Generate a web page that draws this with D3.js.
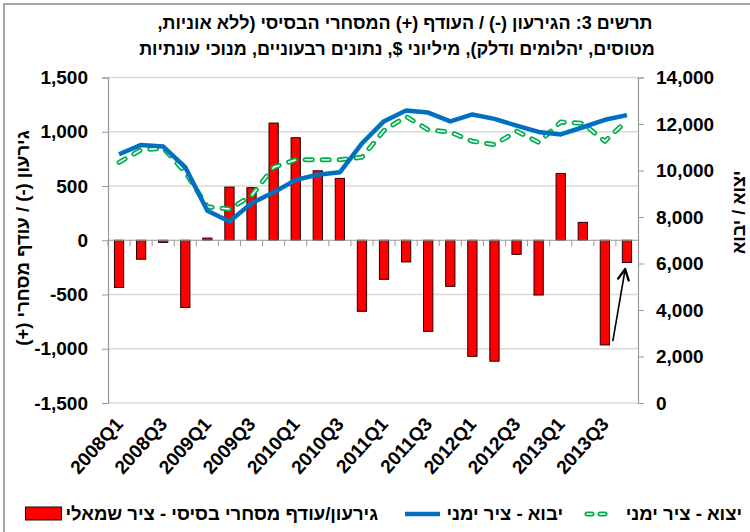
<!doctype html>
<html>
<head>
<meta charset="utf-8">
<title>Trade balance</title>
<script src="https://d3js.org/d3.v7.min.js"></script>
<style>
  body { margin: 0; background: #fff; }
  svg text { font-family: "Liberation Sans", Arial, sans-serif; font-weight: bold; fill: #000; }
</style>
</head>
<body>
<div id="chart"></div>
<script>
const quarters = ["2008Q1","2008Q2","2008Q3","2008Q4","2009Q1","2009Q2","2009Q3","2009Q4",
                  "2010Q1","2010Q2","2010Q3","2010Q4","2011Q1","2011Q2","2011Q3","2011Q4",
                  "2012Q1","2012Q2","2012Q3","2012Q4","2013Q1","2013Q2","2013Q3","2013Q4"];
// left axis - basic trade deficit / surplus
const balance = [-435, -175, -20, -620, 20, 490, 485, 1080, 945, 640, 570, -655,
                 -360, -200, -840, -425, -1070, -1115, -130, -505, 615, 165, -965, -205];
// right axis
const imports = [10700, 11100, 11030, 10140, 8270, 7810, 8590, 9060, 9590, 9820, 9920, 11170,
                 12120, 12580, 12490, 12110, 12410, 12220, 11930, 11660, 11550, 11860, 12180, 12380];
const exports = [10350, 10890, 10960, 9920, 8440, 8340, 8920, 10140, 10460, 10460, 10460, 10570,
                 11720, 12320, 11750, 11650, 11260, 11110, 11690, 11210, 12080, 12030, 11260, 12150];
const leftTicks = [-1500, -1000, -500, 0, 500, 1000, 1500];
const rightTicks = [0, 2000, 4000, 6000, 8000, 10000, 12000, 14000];
const labelQuarters = quarters.filter((q, i) => i % 2 === 0);

const titleLines = ["תרשים 3: הגירעון (-) / העודף (+) המסחרי הבסיסי (ללא אוניות,",
                    "מטוסים, יהלומים ודלק), מיליוני $, נתונים רבעוניים, מנוכי עונתיות"];

const w = 750, h = 532;
const plotL = 108, plotR = 638, plotT = 77.5, plotB = 403;

const svg = d3.select("#chart").append("svg")
  .attr("width", w).attr("height", h);

// chart frame
svg.append("rect").attr("x", 4).attr("y", 4).attr("width", 800).attr("height", 600)
  .attr("fill", "none").attr("stroke", "#a6a6a6").attr("stroke-width", 2);

const x = d3.scaleBand().domain(quarters).range([plotL, plotR]);
const yL = d3.scaleLinear().domain([-1500, 1500]).range([plotB, plotT]);
const yR = d3.scaleLinear().domain([0, 14000]).range([plotB, plotT]);
const step = x.step();
const cx = q => x(q) + step / 2;
const fmt = d => d3.format(",")(d).replace("−", "-");

// gridlines
svg.append("g").selectAll("line").data(leftTicks.filter(d => d !== 0)).enter()
  .append("line")
  .attr("x1", plotL).attr("x2", plotR)
  .attr("y1", d => yL(d)).attr("y2", d => yL(d))
  .attr("stroke", "#d9d9d9").attr("stroke-width", 1.5);

// left axis
const axL = svg.append("g").attr("transform", "translate(" + plotL + ",0)")
  .call(d3.axisLeft(yL).tickValues(leftTicks).tickSize(6).tickPadding(14).tickFormat(fmt));
// right axis
const axR = svg.append("g").attr("transform", "translate(" + plotR + ",0)")
  .call(d3.axisRight(yR).tickValues(rightTicks).tickSize(6).tickPadding(12).tickFormat(fmt));
[axL, axR].forEach(a => {
  a.select(".domain").attr("stroke", "#999").attr("stroke-width", 1.2);
  a.selectAll(".tick line").attr("stroke", "#999");
  a.selectAll("text").attr("font-size", 19).attr("font-family", null).attr("fill", "#000");
});

// bars
svg.append("g").selectAll("rect").data(quarters).enter()
  .append("rect")
  .attr("x", q => x(q) + step * 0.29)
  .attr("width", step * 0.42)
  .attr("y", (q, i) => Math.min(yL(balance[i]), yL(0)))
  .attr("height", (q, i) => Math.abs(yL(balance[i]) - yL(0)))
  .attr("fill", "#ff0000").attr("stroke", "#2a0000").attr("stroke-width", 1);

// zero line with category tick marks
svg.append("line").attr("x1", plotL).attr("x2", plotR)
  .attr("y1", yL(0)).attr("y2", yL(0)).attr("stroke", "#999").attr("stroke-width", 1.2);
svg.append("g").selectAll("line").data(quarters).enter()
  .append("line")
  .attr("x1", q => x(q)).attr("x2", q => x(q))
  .attr("y1", yL(0)).attr("y2", yL(0) + 6)
  .attr("stroke", "#999");

// category labels
const axX = svg.append("g").attr("transform", "translate(0," + plotB + ")")
  .call(d3.axisBottom(x).tickValues(labelQuarters).tickSize(0));
axX.select(".domain").remove();
axX.selectAll("text")
  .attr("font-size", 19).attr("font-family", null)
  .attr("text-anchor", "end")
  .attr("dy", null).attr("y", 0)
  .attr("transform", "translate(5,22) rotate(-48)");

// lines
const line = d3.line().x((d, i) => cx(quarters[i])).y(d => yR(d));
svg.append("path").datum(exports).attr("d", line).attr("fill", "none")
  .attr("stroke", "#00b050").attr("stroke-width", 5).attr("stroke-linecap", "round")
  .attr("stroke-dasharray", "7 10");
svg.append("path").datum(exports).attr("d", line).attr("fill", "none")
  .attr("stroke", "#fff").attr("stroke-width", 1.6).attr("stroke-linecap", "round")
  .attr("stroke-dasharray", "7 10");
svg.append("path").datum(imports).attr("d", line).attr("fill", "none")
  .attr("stroke", "#0070c0").attr("stroke-width", 4.5).attr("stroke-linejoin", "round");

// arrow annotation
svg.append("defs").append("marker")
  .attr("id", "ah").attr("viewBox", "0 0 10 10").attr("refX", 9).attr("refY", 5)
  .attr("markerWidth", 9).attr("markerHeight", 9).attr("orient", "auto")
  .append("path").attr("d", "M1,1 L9,5 L1,9").attr("fill", "none").attr("stroke", "#000").attr("stroke-width", 1.6);
svg.append("line")
  .attr("x1", cx("2013Q3") + step * 0.36).attr("y1", yL(-930))
  .attr("x2", cx("2013Q4") - step * 0.08).attr("y2", yL(-265))
  .attr("stroke", "#000").attr("stroke-width", 1.6).attr("marker-end", "url(#ah)");

// title
svg.append("g").selectAll("text").data(titleLines).enter()
  .append("text")
  .attr("x", (d, i) => i === 0 ? 405 : 397).attr("y", (d, i) => 29 + i * 26)
  .attr("text-anchor", "middle").attr("direction", "rtl")
  .attr("font-size", 18)
  .text(d => d);

// axis titles
svg.append("text").attr("transform", "translate(29," + yL(20) + ") rotate(-90)")
  .attr("text-anchor", "middle").attr("direction", "rtl").attr("font-size", 18.5)
  .text("גירעון (-) / עודף מסחרי (+)");
svg.append("text").attr("transform", "translate(745," + yR(8200) + ") rotate(-90)")
  .attr("text-anchor", "middle").attr("direction", "rtl").attr("font-size", 18)
  .text("יצוא / יבוא");

// legend
const lg = svg.append("g").attr("transform", "translate(0,514)");
const t1 = lg.append("text").attr("x", 378).attr("y", 6).attr("direction", "rtl").attr("text-anchor", "start")
  .attr("font-size", 18.5).text("גירעון/עודף מסחרי בסיסי - ציר שמאלי");
const t1L = 378 - t1.node().getComputedTextLength();
lg.append("rect").attr("x", t1L - 40).attr("y", -7).attr("width", 36).attr("height", 13)
  .attr("fill", "#ff0000").attr("stroke", "#2a0000");
lg.append("line").attr("x1", 405).attr("x2", 440).attr("y1", 0).attr("y2", 0)
  .attr("stroke", "#0070c0").attr("stroke-width", 4.5);
lg.append("text").attr("x", 563).attr("y", 6).attr("direction", "rtl").attr("text-anchor", "start")
  .attr("font-size", 18.5).text("יבוא - ציר ימני");
lg.append("line").attr("x1", 587).attr("x2", 612).attr("y1", 0).attr("y2", 0)
  .attr("stroke", "#00b050").attr("stroke-width", 5).attr("stroke-linecap", "round").attr("stroke-dasharray", "5 8");
lg.append("line").attr("x1", 587).attr("x2", 612).attr("y1", 0).attr("y2", 0)
  .attr("stroke", "#fff").attr("stroke-width", 1.6).attr("stroke-linecap", "round").attr("stroke-dasharray", "5 8");
lg.append("text").attr("x", 742).attr("y", 6).attr("direction", "rtl").attr("text-anchor", "start")
  .attr("font-size", 18.5).text("יצוא - ציר ימני");
</script>
</body>
</html>
